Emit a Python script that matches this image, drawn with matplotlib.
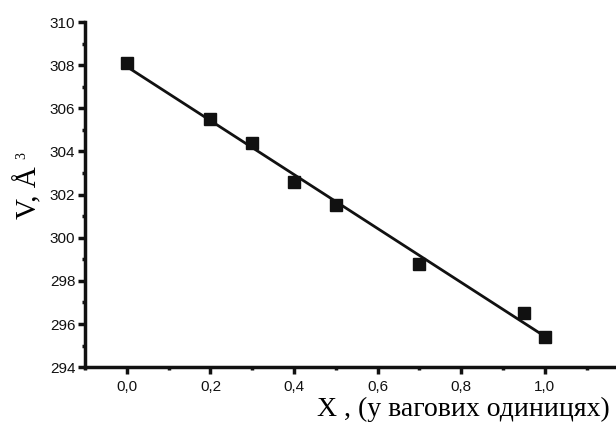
import matplotlib
matplotlib.use("Agg")
import matplotlib.pyplot as plt
import numpy as np
from matplotlib.ticker import MultipleLocator, FuncFormatter

# Дані, зчитані з рисунку
x_values = [0.0, 0.2, 0.3, 0.4, 0.5, 0.7, 0.95, 1.0]
v_values = [308.1, 305.5, 304.4, 302.6, 301.5, 298.8, 296.5, 295.4]

x_label = "X , (у вагових одиницях)"
y_label = "V, Å"
y_label_power = "3"


def main():
    fig = plt.figure(figsize=(6.16, 4.24), dpi=100)
    ax = fig.add_axes([0.138, 0.134, 0.862, 0.814])

    # Лінійна апроксимація
    k, b = np.polyfit(x_values, v_values, 1)
    x_fit = np.array([min(x_values), max(x_values)])
    ax.plot(x_fit, k * x_fit + b, color="#111111", linewidth=2)

    ax.plot(x_values, v_values, "s", color="#111111", markersize=9, zorder=3)

    ax.set_xlim(-0.1, 1.17)
    ax.set_ylim(294, 310)

    ax.xaxis.set_major_locator(MultipleLocator(0.2))
    ax.xaxis.set_minor_locator(MultipleLocator(0.1))
    ax.yaxis.set_major_locator(MultipleLocator(2))
    ax.yaxis.set_minor_locator(MultipleLocator(1))
    ax.xaxis.set_major_formatter(FuncFormatter(lambda v, p: f"{v:.1f}".replace(".", ",")))
    ax.yaxis.set_major_formatter(FuncFormatter(lambda v, p: f"{v:.0f}"))

    for side in ["top", "right"]:
        ax.spines[side].set_visible(False)
    for side in ["left", "bottom"]:
        ax.spines[side].set_linewidth(2.5)
        ax.spines[side].set_color("#111111")

    ax.tick_params(which="major", direction="out", length=5, width=2.5, colors="#111111",
                   labelsize=11, pad=2)
    ax.tick_params(axis="x", which="major", pad=4)
    ax.tick_params(which="minor", direction="out", length=2.5, width=2.5, colors="#111111")
    for lab in ax.get_xticklabels() + ax.get_yticklabels():
        lab.set_fontfamily("Liberation Sans")

    fig.text(0.99, 0.02, x_label, ha="right", va="baseline", fontsize=20,
             fontfamily="Liberation Serif")
    fig.text(0.045, 0.545, y_label, ha="center", va="center", rotation=90, fontsize=21,
             fontfamily="Liberation Serif")
    fig.text(0.036, 0.632, y_label_power, ha="center", va="center", rotation=90, fontsize=10,
             fontfamily="Liberation Serif")

    fig.savefig("out.png", dpi=100)


if __name__ == "__main__":
    main()
